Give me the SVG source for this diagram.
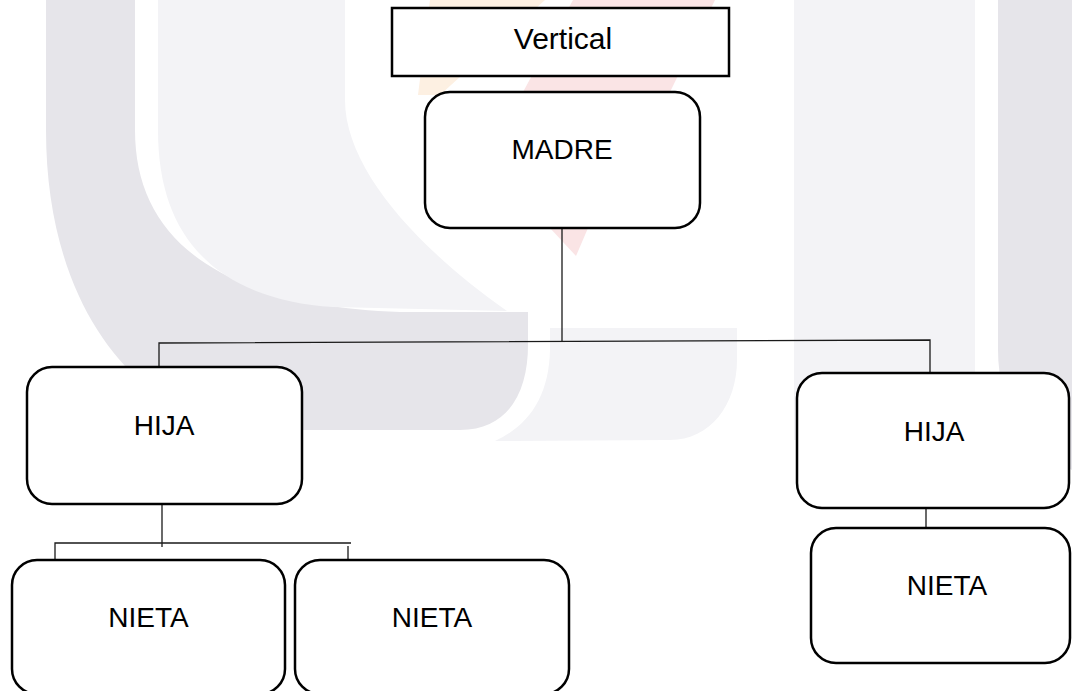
<svg xmlns="http://www.w3.org/2000/svg" width="1072" height="691" viewBox="0 0 1072 691">
  <style>
    .dark { fill: #e6e5ea; }
    .light { fill: #f3f3f6; }
    .box { fill: #ffffff; stroke: #000000; stroke-width: 2.5; }
    .lbl { font-family: "Liberation Sans", Arial, sans-serif; font-size: 28px; fill: #000000; text-anchor: middle; }
    .conn line, .conn polyline { stroke: #1a1a1a; stroke-width: 1.3; fill: none; }
  </style>
  <rect x="0" y="0" width="1072" height="691" fill="#ffffff"/>
  <g id="watermark">
    <path class="dark" d="M46,0 L135,0 L135,130 C135,240 220,305 400,312 L528,312 L528,345 C528,390 510,430 460,430 L260,430 C160,430 46,330 46,130 Z"/>
    <path class="light" d="M158,0 L345,0 L345,100 C345,170 420,250 507,311 L333,307 C230,300 158,250 158,130 Z"/>
    <path class="light" d="M550,328 L737,328 L737,360 C737,405 710,440 670,440 L495,441 C530,425 549,395 550,350 Z"/>
    <path class="light" d="M794,0 L975,0 L975,440 L794,440 Z"/>
    <path class="dark" d="M998,0 L1072,0 L1072,470 C1030,450 998,410 998,350 Z"/>
    <path fill="#fdf0e2" d="M430,0 L545,0 L440,95 L418,95 Z"/>
    <path fill="#fae4e5" d="M573,0 L715,0 L670,92 L588,228 L576,256 L550,228 L523,92 Z"/>
  </g>
  <g id="connectors" class="conn">
    <line x1="562" y1="228" x2="562" y2="342"/>
    <polyline points="159,367 159,343 930,340 930,373"/>
    <line x1="162" y1="504" x2="162" y2="547"/>
    <polyline points="55,560 55,543 351,543"/>
    <line x1="348" y1="546" x2="348" y2="560"/>
    <line x1="926" y1="508" x2="926" y2="528"/>
  </g>
  <g id="node-vertical">
    <rect class="box" x="392" y="8" width="337" height="68"/>
    <text class="lbl" x="563" y="49" style="font-size:30px">Vertical</text>
  </g>
  <g id="node-madre">
    <rect class="box" x="425" y="92" width="275" height="136" rx="25"/>
    <text class="lbl" x="562" y="159">MADRE</text>
  </g>
  <g id="node-hija-left">
    <rect class="box" x="27" y="367" width="275" height="137" rx="25"/>
    <text class="lbl" x="164" y="435">HIJA</text>
  </g>
  <g id="node-hija-right">
    <rect class="box" x="797" y="373" width="272" height="135" rx="25"/>
    <text class="lbl" x="934" y="441">HIJA</text>
  </g>
  <g id="node-nieta-1">
    <rect class="box" x="12" y="560" width="273" height="134" rx="25"/>
    <text class="lbl" x="148.5" y="627">NIETA</text>
  </g>
  <g id="node-nieta-2">
    <rect class="box" x="295" y="560" width="274" height="134" rx="25"/>
    <text class="lbl" x="432" y="627">NIETA</text>
  </g>
  <g id="node-nieta-3">
    <rect class="box" x="811" y="528" width="259" height="135" rx="25"/>
    <text class="lbl" x="947" y="595">NIETA</text>
  </g>
</svg>
